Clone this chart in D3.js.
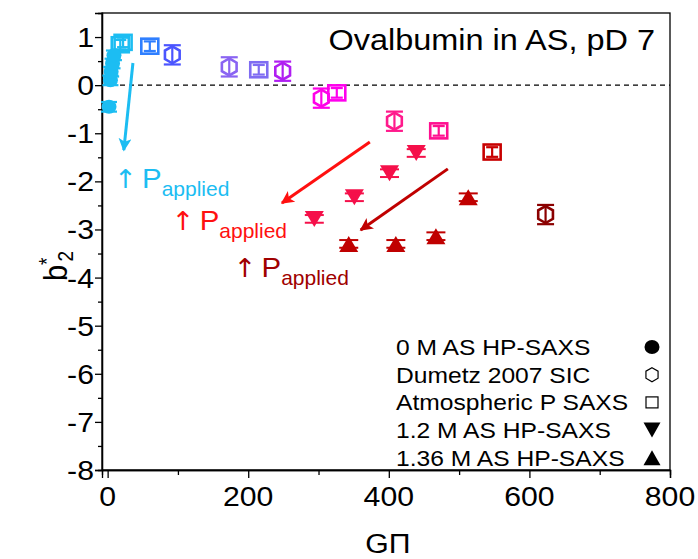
<!DOCTYPE html>
<html><head><meta charset="utf-8">
<script src="https://cdn.jsdelivr.net/npm/d3@7"></script>
<style>body{margin:0;background:#fff} svg{display:block} text{font-family:"Liberation Sans",Arial,sans-serif}</style>
</head><body>
<svg id="c" width="698" height="559"></svg>
<script>
// ---- data ----
// 0 M AS HP-SAXS (filled circles)
const circX = [2, 4, 5, 7, 9];
const circY = [-0.45, 0.1, 0.28, 0.45, 0.62];
const circErr = [0.1, 0.1, 0.1, 0.1, 0.1];
const circColors = ["#1cbdf2", "#1cbdf2", "#1cbdf2", "#1cbdf2", "#1cbdf2"];
// Dumetz 2007 SIC (open hexagons)
const hexX = [92, 173, 249, 304, 408, 623];
const hexY = [0.63, 0.38, 0.29, -0.27, -0.75, -2.69];
const hexErr = [0.2, 0.2, 0.2, 0.2, 0.2, 0.2];
const hexColors = ["#4b55ff", "#8a64f2", "#b01ef2", "#ff00e8", "#ff1a8c", "#8b0000"];
// Atmospheric P SAXS (open squares)
const sqX = [18, 22, 60, 215, 326, 471, 547];
const sqY = [0.84, 0.89, 0.81, 0.32, -0.16, -0.95, -1.39];
const sqErr = [0.1, 0.1, 0.1, 0.1, 0.1, 0.1, 0.1];
const sqColors = ["#1cbdf2", "#1cbdf2", "#2f7fff", "#7f6cf2", "#ff00ee", "#ff1090", "#c80000"];
// 1.2 M AS HP-SAXS (down triangles)
const dtX = [294, 351, 401, 439];
const dtY = [-2.78, -2.33, -1.83, -1.41];
const dtErr = [0.08, 0.08, 0.08, 0.08];
const dtColors = ["#f5104a", "#f5104a", "#f5104a", "#f5104a"];
// 1.36 M AS HP-SAXS (up triangles)
const utX = [343, 410, 467, 513];
const utY = [-3.3, -3.3, -3.14, -2.33];
const utErr = [0.08, 0.08, 0.08, 0.08];
const utColors = ["#c00000", "#c00000", "#c00000", "#c00000"];
// axis ticks
const xMajor = [0, 200, 400, 600, 800];
const xMinor = [100, 300, 500, 700];
const yMajor = [1, 0, -1, -2, -3, -4, -5, -6, -7, -8];
const yMinor = [0.5, -0.5, -1.5, -2.5, -3.5, -4.5, -5.5, -6.5, -7.5];
// legend
const legendLabels = ["0 M AS HP-SAXS", "Dumetz 2007 SIC", "Atmospheric P SAXS", "1.2 M AS HP-SAXS", "1.36 M AS HP-SAXS"];
const legendShapes = ["circle", "hex", "square", "down", "up"];
// annotation arrows [x1,y1,x2,y2] in data units
const arrowData = [[36, 0.46, 23, -1.35], [373, -1.18, 248, -2.45], [484, -1.74, 360, -3.01]];
const arrowColors = ["#1cbdf2", "#ff1010", "#c00000"];
const noteX = [9, 91, 179];
const noteY = [-2.14, -3.01, -3.99];
const noteColors = ["#1cbdf2", "#ff1010", "#a00000"];

// ---- drawing ----
const SX = 1.12;
const svg = d3.select("#c");
const x = d3.scaleLinear().domain([-8, 800]).range([102, 670]);
const y = d3.scaleLinear().domain([-8, 1.5]).range([470, 13]);

function stext(g, px, py, txt, size, anchor, color) {
  return g.append("text").attr("transform", `translate(${px},${py}) scale(${SX},1)`)
    .attr("text-anchor", anchor || "start").attr("font-size", size).attr("fill", color || "#000").text(txt);
}

// zero line
svg.append("line").attr("x1", x(-8)).attr("x2", x(800)).attr("y1", y(0)).attr("y2", y(0))
  .attr("stroke", "#000").attr("stroke-width", 1.3).attr("stroke-dasharray", "5,4");

// frame
svg.append("rect").attr("x", x(-8)).attr("y", y(1.5)).attr("width", x(800) - x(-8)).attr("height", y(-8) - y(1.5))
  .attr("fill", "none").attr("stroke", "#000").attr("stroke-width", 1.3);

// axes
const gx = svg.append("g").attr("transform", `translate(0,${y(-8)})`);
gx.call(d3.axisBottom(x).tickValues(xMajor).tickSize(8).tickFormat(""));
gx.call(g => g.append("g").call(d3.axisBottom(x).tickValues(xMinor).tickSize(5).tickFormat("")));
gx.selectAll(".domain").attr("stroke-width", 1.3);
gx.selectAll("line").attr("stroke-width", 1.3);
xMajor.forEach(v => stext(svg, x(v), 506, String(v), 27, "middle"));

const gy = svg.append("g").attr("transform", `translate(${x(-8)},0)`);
gy.call(d3.axisLeft(y).tickValues(yMajor).tickSize(7).tickFormat(""));
gy.call(g => g.append("g").call(d3.axisLeft(y).tickValues(yMinor).tickSize(4).tickFormat("")));
gy.selectAll(".domain").attr("stroke-width", 1.3);
gy.selectAll("line").attr("stroke-width", 1.3);
yMajor.forEach(v => stext(svg, 94, y(v) + 10, String(v), 27, "end"));

// axis titles
stext(svg, 388, 553, "GΠ", 27, "middle");
const yl = svg.append("text").attr("transform", `translate(67,266) scale(${SX},1) rotate(-90)`)
  .attr("text-anchor", "middle").attr("font-size", 29);
yl.append("tspan").text("b");
yl.append("tspan").attr("font-size", 19).attr("dy", -12).text("*");
yl.append("tspan").attr("font-size", 19).attr("dy", 17).attr("dx", -4).text("2");

// title
stext(svg, 655, 50, "Ovalbumin in AS, pD 7", 29, "end");

// shapes
function hexPath(r) {
  const pts = d3.range(6).map(i => { const a = Math.PI / 3 * i - Math.PI / 2; return [r * Math.cos(a), r * Math.sin(a)]; });
  return "M" + pts.map(p => p.join(",")).join("L") + "Z";
}
function triPath(w, h, down) {
  return down ? `M${-w / 2},${-h / 2}L${w / 2},${-h / 2}L0,${h / 2}Z` : `M${-w / 2},${h / 2}L${w / 2},${h / 2}L0,${-h / 2}Z`;
}

function errBars(xs, ys, es, cols, capW, sw) {
  const g = svg.append("g");
  xs.forEach((v, i) => {
    const cx = x(v), y1 = y(ys[i] + es[i]), y2 = y(ys[i] - es[i]);
    g.append("line").attr("x1", cx).attr("x2", cx).attr("y1", y1).attr("y2", y2).attr("stroke", cols[i]).attr("stroke-width", sw);
    [y1, y2].forEach(yy => g.append("line").attr("x1", cx - capW / 2).attr("x2", cx + capW / 2).attr("y1", yy).attr("y2", yy).attr("stroke", cols[i]).attr("stroke-width", sw));
  });
}

// hexagons
errBars(hexX, hexY, hexErr, hexColors, 17, 2.2);
hexX.forEach((v, i) => svg.append("path").attr("d", hexPath(8.5)).attr("transform", `translate(${x(v)},${y(hexY[i])})`)
  .attr("fill", "none").attr("stroke", hexColors[i]).attr("stroke-width", 2.6));
// squares
sqX.forEach((v, i) => svg.append("rect").attr("x", x(v) - 8.5).attr("y", y(sqY[i]) - 7.5).attr("width", 17).attr("height", 15)
  .attr("fill", "none").attr("stroke", sqColors[i]).attr("stroke-width", 2.6));
errBars(sqX, sqY, sqErr, sqColors, 12, 2.2);
// circles
errBars(circX, circY, circErr, circColors, 16, 2.2);
circX.forEach((v, i) => svg.append("ellipse").attr("cx", x(v)).attr("cy", y(circY[i])).attr("rx", 7.5).attr("ry", 7).attr("fill", circColors[i]));
// down triangles
dtX.forEach((v, i) => svg.append("path").attr("d", triPath(19, 16, true)).attr("transform", `translate(${x(v)},${y(dtY[i])})`).attr("fill", dtColors[i]));
errBars(dtX, dtY, dtErr, dtColors, 19, 2);
// up triangles
utX.forEach((v, i) => svg.append("path").attr("d", triPath(19, 16, false)).attr("transform", `translate(${x(v)},${y(utY[i])})`).attr("fill", utColors[i]));
errBars(utX, utY, utErr, utColors, 19, 2);

// arrows
const defs = svg.append("defs");
arrowColors.forEach((c, i) => {
  defs.append("marker").attr("id", "ah" + i).attr("viewBox", "0 0 10 10").attr("refX", 9).attr("refY", 5)
    .attr("markerUnits", "userSpaceOnUse").attr("markerWidth", 22).attr("markerHeight", 13).attr("orient", "auto")
    .append("path").attr("d", "M0,0L10,5L0,10L2.5,5Z").attr("fill", c);
});
arrowData.forEach((a, i) => svg.append("line").attr("x1", x(a[0])).attr("y1", y(a[1])).attr("x2", x(a[2])).attr("y2", y(a[3]))
  .attr("stroke", arrowColors[i]).attr("stroke-width", 3).attr("marker-end", `url(#ah${i})`));

// annotation labels
noteX.forEach((v, i) => {
  const t = svg.append("text").attr("transform", `translate(${x(v)},${y(noteY[i])}) scale(1.05,1)`)
    .attr("font-size", 28).attr("fill", noteColors[i]);
  t.append("tspan").attr("font-family", "DejaVu Sans").attr("font-size", 26).text("↑");
  t.append("tspan").attr("dx", 5).text("P");
  t.append("tspan").attr("font-size", 20).attr("dy", 8).text("applied");
});

// legend
const lg = svg.append("g");
legendLabels.forEach((lab, i) => {
  const yy = 347 + i * 27.7;
  stext(lg, 396, yy + 8, lab, 22, "start");
  const sx = 652;
  const s = legendShapes[i];
  if (s === "circle") lg.append("ellipse").attr("cx", sx).attr("cy", yy).attr("rx", 7.5).attr("ry", 7).attr("fill", "#000");
  if (s === "hex") lg.append("path").attr("d", hexPath(7)).attr("transform", `translate(${sx},${yy})`).attr("fill", "none").attr("stroke", "#000").attr("stroke-width", 1.2);
  if (s === "square") lg.append("rect").attr("x", sx - 6).attr("y", yy - 5.5).attr("width", 12).attr("height", 11).attr("fill", "none").attr("stroke", "#000").attr("stroke-width", 1.2);
  if (s === "down") lg.append("path").attr("d", triPath(17, 15, true)).attr("transform", `translate(${sx},${yy})`).attr("fill", "#000");
  if (s === "up") lg.append("path").attr("d", triPath(17, 15, false)).attr("transform", `translate(${sx},${yy})`).attr("fill", "#000");
});
</script>
</body></html>
